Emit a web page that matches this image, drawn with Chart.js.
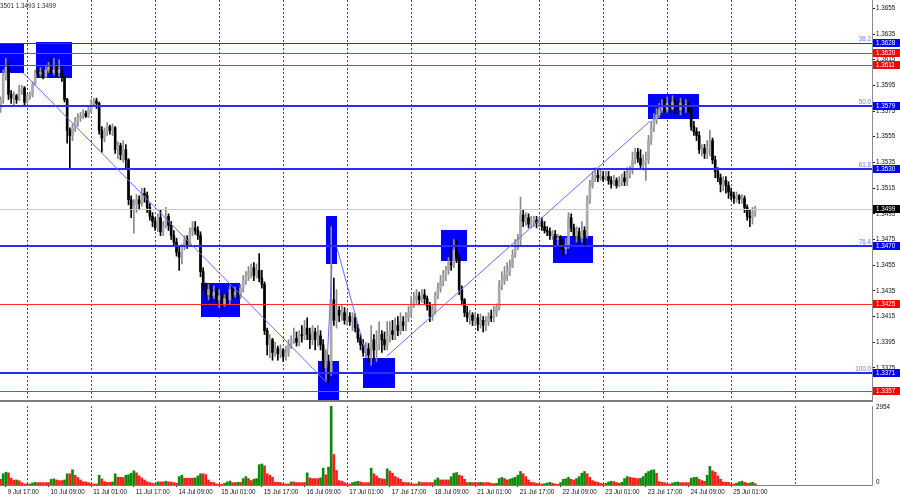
<!DOCTYPE html>
<html>
<head>
<meta charset="utf-8">
<script src="https://cdn.jsdelivr.net/npm/chart.js@4.4.1/dist/chart.umd.min.js"></script>
<style>
  html, body { margin: 0; padding: 0; background: #fff; }
  #wrap { position: relative; width: 900px; height: 500px; overflow: hidden; }
  #priceBox { position: absolute; left: 0; top: 0; width: 900px; height: 400px; }
  #volBox { position: absolute; left: 0; top: 400px; width: 900px; height: 100px; }
</style>
</head>
<body>
<div id="wrap">
  <div id="priceBox"><canvas id="priceChart"></canvas></div>
  <div id="volBox"><canvas id="volChart"></canvas></div>
</div>
<script>
// H1 candles, 9 Jul 17:00 -> 25 Jul 10:00
const opens = [
  1.3577,1.3584,1.3603,1.3609,1.3588,1.3585,1.3587,1.3584,1.3591,1.3593,
  1.3582,1.3587,1.3588,1.3596,1.3605,1.3604,1.3605,1.3602,1.3607,1.3609,
  1.3605,1.3607,1.3605,1.3607,1.3601,1.3584,1.3560,1.3556,1.3562,1.3567,
  1.3570,1.3571,1.3573,1.3571,1.3576,1.3581,1.3583,1.3581,1.3560,1.3554,
  1.3559,1.3563,1.3560,1.3562,1.3545,1.3548,1.3541,1.3545,1.3537,1.3506,
  1.3498,1.3502,1.3506,1.3503,1.3511,1.3509,1.3500,1.3493,1.3489,1.3484,
  1.3492,1.3481,1.3485,1.3493,1.3486,1.3478,1.3473,1.3465,1.3461,1.3470,
  1.3475,1.3471,1.3481,1.3484,1.3482,1.3478,1.3450,1.3440,1.3432,1.3436,
  1.3431,1.3434,1.3428,1.3431,1.3425,1.3429,1.3428,1.3436,1.3432,1.3434,
  1.3432,1.3437,1.3443,1.3447,1.3450,1.3453,1.3447,1.3451,1.3445,1.3440,
  1.3404,1.3393,1.3397,1.3387,1.3390,1.3386,1.3389,1.3384,1.3387,1.3393,
  1.3397,1.3398,1.3395,1.3401,1.3400,1.3406,1.3401,1.3397,1.3403,1.3397,
  1.3400,1.3393,1.3375,1.3380,1.3372,1.3428,1.3412,1.3420,1.3416,1.3418,
  1.3412,1.3415,1.3411,1.3414,1.3406,1.3398,1.3393,1.3387,1.3390,1.3385,
  1.3397,1.3389,1.3393,1.3401,1.3397,1.3393,1.3400,1.3404,1.3401,1.3408,
  1.3404,1.3411,1.3408,1.3414,1.3418,1.3425,1.3428,1.3431,1.3428,1.3432,
  1.3429,1.3423,1.3415,1.3420,1.3431,1.3437,1.3442,1.3447,1.3451,1.3457,
  1.3455,1.3467,1.3461,1.3436,1.3428,1.3418,1.3414,1.3416,1.3412,1.3414,
  1.3409,1.3412,1.3408,1.3411,1.3415,1.3414,1.3418,1.3422,1.3439,1.3443,
  1.3447,1.3450,1.3454,1.3463,1.3470,1.3475,1.3494,1.3489,1.3492,1.3487,
  1.3489,1.3490,1.3488,1.3489,1.3485,1.3482,1.3481,1.3478,1.3479,1.3475,
  1.3476,1.3471,1.3468,1.3471,1.3492,1.3484,1.3478,1.3481,1.3476,1.3482,
  1.3478,1.3506,1.3517,1.3523,1.3525,1.3523,1.3524,1.3522,1.3524,1.3521,
  1.3518,1.3521,1.3517,1.3520,1.3523,1.3520,1.3526,1.3529,1.3537,1.3543,
  1.3538,1.3533,1.3535,1.3537,1.3552,1.3562,1.3568,1.3572,1.3576,1.3579,
  1.3576,1.3581,1.3577,1.3582,1.3579,1.3576,1.3581,1.3578,1.3580,1.3577,
  1.3563,1.3559,1.3556,1.3545,1.3546,1.3542,1.3546,1.3552,1.3537,1.3528,
  1.3523,1.3518,1.3521,1.3517,1.3512,1.3509,1.3507,1.3509,1.3506,1.3507,
  1.3500,1.3493,1.3492,1.3496
];
const highs = [
  1.3586,1.3607,1.3616,1.3612,1.3591,1.3590,1.3588,1.3595,1.3595,1.3594,
  1.3588,1.3590,1.3598,1.3607,1.3609,1.3609,1.3607,1.3610,1.3613,1.3617,
  1.3616,1.3611,1.3615,1.3610,1.3602,1.3585,1.3562,1.3565,1.3570,1.3573,
  1.3574,1.3576,1.3575,1.3579,1.3584,1.3585,1.3585,1.3582,1.3563,1.3562,
  1.3566,1.3564,1.3565,1.3563,1.3551,1.3550,1.3552,1.3549,1.3538,1.3509,
  1.3506,1.3510,1.3509,1.3515,1.3515,1.3512,1.3503,1.3496,1.3492,1.3495,
  1.3498,1.3489,1.3500,1.3495,1.3489,1.3482,1.3476,1.3470,1.3471,1.3478,
  1.3478,1.3484,1.3489,1.3489,1.3485,1.3481,1.3453,1.3441,1.3440,1.3440,
  1.3439,1.3437,1.3436,1.3434,1.3432,1.3434,1.3439,1.3439,1.3438,1.3437,
  1.3440,1.3447,1.3450,1.3454,1.3456,1.3457,1.3456,1.3464,1.3451,1.3442,
  1.3406,1.3401,1.3398,1.3395,1.3392,1.3393,1.3390,1.3392,1.3397,1.3400,
  1.3406,1.3403,1.3404,1.3408,1.3412,1.3414,1.3406,1.3408,1.3406,1.3408,
  1.3404,1.3397,1.3389,1.3385,1.3485,1.3445,1.3436,1.3423,1.3424,1.3422,
  1.3420,1.3418,1.3418,1.3417,1.3409,1.3401,1.3397,1.3395,1.3394,1.3408,
  1.3401,1.3404,1.3411,1.3404,1.3403,1.3411,1.3411,1.3412,1.3414,1.3415,
  1.3418,1.3415,1.3418,1.3423,1.3431,1.3434,1.3436,1.3434,1.3436,1.3436,
  1.3431,1.3426,1.3424,1.3434,1.3441,1.3447,1.3451,1.3454,1.3461,1.3472,
  1.3475,1.3475,1.3464,1.3439,1.3429,1.3423,1.3420,1.3418,1.3418,1.3417,
  1.3417,1.3415,1.3415,1.3418,1.3420,1.3423,1.3425,1.3443,1.3450,1.3454,
  1.3457,1.3459,1.3467,1.3475,1.3479,1.3508,1.3498,1.3496,1.3495,1.3493,
  1.3493,1.3493,1.3492,1.3492,1.3489,1.3485,1.3484,1.3482,1.3482,1.3479,
  1.3478,1.3475,1.3476,1.3496,1.3495,1.3487,1.3485,1.3484,1.3489,1.3485,
  1.3509,1.3521,1.3528,1.3531,1.3529,1.3529,1.3528,1.3528,1.3528,1.3524,
  1.3525,1.3523,1.3524,1.3526,1.3528,1.3531,1.3532,1.3543,1.3546,1.3546,
  1.3545,1.3541,1.3543,1.3556,1.3567,1.3573,1.3577,1.3581,1.3584,1.3585,
  1.3586,1.3584,1.3587,1.3585,1.3584,1.3585,1.3584,1.3584,1.3582,1.3579,
  1.3567,1.3562,1.3559,1.3549,1.3549,1.3552,1.3560,1.3554,1.3540,1.3531,
  1.3526,1.3524,1.3524,1.3520,1.3515,1.3512,1.3512,1.3510,1.3510,1.3509,
  1.3502,1.3498,1.3500,1.3501
];
const lows = [
  1.3574,1.3581,1.3599,1.3584,1.3581,1.3580,1.3581,1.3583,1.3588,1.3580,
  1.3581,1.3584,1.3586,1.3595,1.3601,1.3602,1.3600,1.3601,1.3605,1.3604,
  1.3603,1.3602,1.3602,1.3598,1.3582,1.3550,1.3531,1.3552,1.3559,1.3563,
  1.3567,1.3569,1.3570,1.3570,1.3574,1.3579,1.3577,1.3557,1.3543,1.3551,
  1.3556,1.3557,1.3556,1.3542,1.3538,1.3537,1.3535,1.3531,1.3502,1.3492,
  1.3480,1.3496,1.3498,1.3501,1.3504,1.3496,1.3490,1.3485,1.3482,1.3481,
  1.3478,1.3478,1.3484,1.3482,1.3475,1.3470,1.3462,1.3451,1.3456,1.3467,
  1.3468,1.3470,1.3478,1.3479,1.3475,1.3446,1.3436,1.3428,1.3428,1.3426,
  1.3429,1.3425,1.3422,1.3420,1.3423,1.3424,1.3425,1.3429,1.3430,1.3429,
  1.3429,1.3434,1.3440,1.3443,1.3445,1.3443,1.3445,1.3442,1.3437,1.3401,
  1.3385,1.3383,1.3381,1.3384,1.3381,1.3383,1.3380,1.3381,1.3384,1.3390,
  1.3394,1.3392,1.3392,1.3395,1.3397,1.3397,1.3390,1.3393,1.3389,1.3392,
  1.3389,1.3370,1.3366,1.3364,1.3369,1.3408,1.3406,1.3411,1.3412,1.3409,
  1.3408,1.3408,1.3404,1.3403,1.3395,1.3389,1.3384,1.3383,1.3380,1.3377,
  1.3381,1.3380,1.3389,1.3387,1.3389,1.3389,1.3395,1.3397,1.3397,1.3400,
  1.3401,1.3404,1.3404,1.3411,1.3415,1.3422,1.3425,1.3424,1.3426,1.3425,
  1.3420,1.3411,1.3412,1.3417,1.3429,1.3434,1.3439,1.3443,1.3448,1.3451,
  1.3453,1.3457,1.3432,1.3424,1.3415,1.3411,1.3409,1.3408,1.3408,1.3404,
  1.3406,1.3403,1.3404,1.3408,1.3411,1.3411,1.3415,1.3420,1.3436,1.3440,
  1.3443,1.3447,1.3453,1.3461,1.3467,1.3470,1.3485,1.3486,1.3484,1.3484,
  1.3485,1.3484,1.3485,1.3482,1.3480,1.3478,1.3475,1.3475,1.3471,1.3470,
  1.3467,1.3462,1.3464,1.3468,1.3481,1.3475,1.3473,1.3470,1.3473,1.3470,
  1.3476,1.3503,1.3515,1.3520,1.3520,1.3521,1.3520,1.3521,1.3518,1.3515,
  1.3517,1.3515,1.3516,1.3517,1.3517,1.3517,1.3523,1.3526,1.3534,1.3535,
  1.3531,1.3529,1.3521,1.3534,1.3549,1.3559,1.3565,1.3570,1.3574,1.3574,
  1.3574,1.3574,1.3576,1.3573,1.3573,1.3572,1.3574,1.3574,1.3574,1.3560,
  1.3556,1.3552,1.3542,1.3540,1.3538,1.3538,1.3540,1.3534,1.3523,1.3520,
  1.3512,1.3513,1.3511,1.3507,1.3506,1.3503,1.3504,1.3503,1.3503,1.3496,
  1.3490,1.3485,1.3487,1.3493
];
const closes = [
  1.3584,1.3603,1.3609,1.3588,1.3585,1.3587,1.3584,1.3591,1.3593,1.3582,
  1.3587,1.3588,1.3596,1.3605,1.3604,1.3605,1.3602,1.3607,1.3609,1.3605,
  1.3607,1.3605,1.3607,1.3601,1.3584,1.3560,1.3556,1.3562,1.3567,1.3570,
  1.3571,1.3573,1.3571,1.3576,1.3581,1.3583,1.3581,1.3560,1.3554,1.3559,
  1.3563,1.3560,1.3562,1.3545,1.3548,1.3541,1.3545,1.3537,1.3506,1.3498,
  1.3502,1.3506,1.3503,1.3511,1.3509,1.3500,1.3493,1.3489,1.3484,1.3492,
  1.3481,1.3485,1.3493,1.3486,1.3478,1.3473,1.3465,1.3461,1.3470,1.3475,
  1.3471,1.3481,1.3484,1.3482,1.3478,1.3450,1.3440,1.3432,1.3436,1.3431,
  1.3434,1.3428,1.3431,1.3425,1.3429,1.3428,1.3436,1.3432,1.3434,1.3432,
  1.3437,1.3443,1.3447,1.3450,1.3453,1.3447,1.3451,1.3445,1.3440,1.3404,
  1.3393,1.3397,1.3387,1.3390,1.3386,1.3389,1.3384,1.3387,1.3393,1.3397,
  1.3398,1.3395,1.3401,1.3400,1.3406,1.3401,1.3397,1.3403,1.3397,1.3400,
  1.3393,1.3375,1.3380,1.3372,1.3428,1.3412,1.3420,1.3416,1.3418,1.3412,
  1.3415,1.3411,1.3414,1.3406,1.3398,1.3393,1.3387,1.3390,1.3385,1.3397,
  1.3389,1.3393,1.3401,1.3397,1.3393,1.3400,1.3404,1.3401,1.3408,1.3404,
  1.3411,1.3408,1.3414,1.3418,1.3425,1.3428,1.3431,1.3428,1.3432,1.3429,
  1.3423,1.3415,1.3420,1.3431,1.3437,1.3442,1.3447,1.3451,1.3457,1.3455,
  1.3467,1.3461,1.3436,1.3428,1.3418,1.3414,1.3416,1.3412,1.3414,1.3409,
  1.3412,1.3408,1.3411,1.3415,1.3414,1.3418,1.3422,1.3439,1.3443,1.3447,
  1.3450,1.3454,1.3463,1.3470,1.3475,1.3494,1.3489,1.3492,1.3487,1.3489,
  1.3490,1.3488,1.3489,1.3485,1.3482,1.3481,1.3478,1.3479,1.3475,1.3476,
  1.3471,1.3468,1.3471,1.3492,1.3484,1.3478,1.3481,1.3476,1.3482,1.3478,
  1.3506,1.3517,1.3523,1.3525,1.3523,1.3524,1.3522,1.3524,1.3521,1.3518,
  1.3521,1.3517,1.3520,1.3523,1.3520,1.3526,1.3529,1.3537,1.3543,1.3538,
  1.3533,1.3535,1.3537,1.3552,1.3562,1.3568,1.3572,1.3576,1.3579,1.3576,
  1.3581,1.3577,1.3582,1.3579,1.3576,1.3581,1.3578,1.3580,1.3577,1.3563,
  1.3559,1.3556,1.3545,1.3546,1.3542,1.3546,1.3552,1.3537,1.3528,1.3523,
  1.3518,1.3521,1.3517,1.3512,1.3509,1.3507,1.3509,1.3506,1.3507,1.3500,
  1.3493,1.3492,1.3496,1.3499
];
const volumes = [
  215,420,480,455,255,180,190,160,90,40,
  35,40,75,100,90,90,90,90,90,215,
  230,190,165,165,190,420,420,570,365,280,
  190,125,115,90,40,40,40,365,230,125,
  100,100,115,420,290,290,280,365,380,440,
  530,455,340,265,190,125,90,65,40,115,
  115,115,140,115,115,90,65,315,365,255,
  255,255,255,265,340,420,420,390,190,100,
  90,40,25,25,65,115,150,90,90,100,
  100,240,315,240,165,215,240,760,785,720,
  420,365,290,100,100,90,40,40,40,115,
  115,90,90,90,90,455,265,240,240,240,
  265,630,380,670,2954,1140,540,165,140,90,
  40,40,90,115,140,115,90,90,90,630,
  420,340,255,230,215,605,520,440,315,265,
  215,100,90,90,40,40,40,115,90,90,
  90,90,90,190,265,190,190,190,190,315,
  440,465,365,340,215,90,100,90,90,90,
  100,90,90,90,65,50,65,240,280,240,
  190,215,255,290,365,505,420,315,190,100,
  90,65,40,40,50,75,100,65,40,25,
  90,215,230,290,215,190,240,315,440,505,
  420,290,165,125,100,65,40,65,115,140,
  125,90,65,100,240,315,290,265,255,240,
  255,315,440,505,555,570,440,125,100,90,
  40,40,75,100,115,90,90,90,90,255,
  280,290,215,165,140,365,695,530,480,340,
  215,115,100,100,40,40,65,115,140,100,
  65,75,100,50
];
const timeLabels = ['9 Jul 17:00','10 Jul 09:00','11 Jul 01:00','11 Jul 17:00','14 Jul 09:00','15 Jul 01:00',
  '15 Jul 17:00','16 Jul 09:00','17 Jul 01:00','17 Jul 17:00','18 Jul 09:00','21 Jul 01:00',
  '21 Jul 17:00','22 Jul 09:00','23 Jul 01:00','23 Jul 17:00','24 Jul 09:00','25 Jul 01:00'];
const timeLabelBars = [2,18,34,50,66,82,98,114,130,146,162,178,194,210,226,242,258,274];
const gridBars = [10,34,58,82,106,130,154,178,202,226,250,274,298];
const priceTicks = [1.3355,1.3375,1.3395,1.3415,1.3435,1.3455,1.3475,1.3495,1.3515,1.3535,1.3555,1.3575,1.3595,1.3615,1.3635,1.3655];
const volumeTicks = [0, 2954];

// levels drawn on the chart
const fiboLevels = [1.3628, 1.3579, 1.3530, 1.3470, 1.3371];
const fiboNames = ['38.2', '50.0', '61.8', '76.4', '100.0'];
const redLevels = [1.3620, 1.3611, 1.3425, 1.3357];
const lastPrice = 1.3499;

// blue zones: bar range and price range
const zoneFrom = [-2, 13.3, 75.2, 122.1, 119.1, 135.9, 165.2, 207.2, 242.8];
const zoneTo = [8.8, 26.8, 89.8, 126.2, 126.9, 147.9, 174.9, 222.2, 261.9];
const zoneTop = [1.3628, 1.3629, 1.3441, 1.3493, 1.3380, 1.3383, 1.3482, 1.3478, 1.3588];
const zoneBottom = [1.3605, 1.3601, 1.3415, 1.3456, 1.3340, 1.3359, 1.3458, 1.3457, 1.3569];

// thin trend lines
const trendFromBar = [8.4, 122.1, 126.1, 144.8];
const trendFromPrice = [1.3605, 1.3364, 1.3469, 1.3384];
const trendToBar = [122.1, 124.3, 137.3, 243.5];
const trendToPrice = [1.3364, 1.3455, 1.3384, 1.3567];

const xMin = -0.19, xMax = 326.8;
const FONT = 'Liberation Sans';
const axisFont = {family: FONT, size: 6.3};
const bars = closes.map((c, i) => i);
const isUp = bars.map(i => closes[i] >= opens[i]);

// no label overflow padding, the plot must fill its box
const noPad = s => { s.paddingTop = 0; s.paddingBottom = 0; s.paddingLeft = 0; s.paddingRight = 0; };

const mt4Overlay = {
  id: 'mt4Overlay',
  beforeDatasetsDraw(chart) {
    const {ctx, chartArea: a, scales: {x, y}} = chart;
    ctx.save();
    ctx.beginPath();
    ctx.rect(a.left, a.top, a.right - a.left, a.bottom - a.top);
    ctx.clip();
    ctx.fillStyle = '#0000ff';
    zoneFrom.forEach((z, k) => {
      const x0 = Math.round(x.getPixelForValue(zoneFrom[k]));
      const x1 = Math.round(x.getPixelForValue(zoneTo[k]));
      const y0 = Math.round(y.getPixelForValue(zoneTop[k]));
      const y1 = Math.round(y.getPixelForValue(zoneBottom[k]));
      ctx.fillRect(x0, y0, x1 - x0, y1 - y0);
    });
    ctx.restore();
  },
  afterDatasetsDraw(chart) {
    const {ctx, chartArea: a, scales: {x, y}} = chart;
    ctx.save();
    ctx.beginPath();
    ctx.rect(a.left, a.top, a.right - a.left, a.bottom - a.top);
    ctx.clip();
    // current price line
    ctx.fillStyle = '#c8c8c8';
    ctx.fillRect(a.left, Math.round(y.getPixelForValue(lastPrice)), a.right - a.left, 1);
    // red levels
    ctx.fillStyle = '#ff2a2a';
    redLevels.forEach(v => ctx.fillRect(a.left, Math.round(y.getPixelForValue(v)), a.right - a.left, 1));
    // fibo levels
    fiboLevels.forEach((v, k) => {
      const py = Math.round(y.getPixelForValue(v));
      ctx.fillStyle = '#2b2bff';
      if (k === 0) ctx.fillRect(a.left, py, a.right - a.left, 1);
      else ctx.fillRect(a.left, py - 1, a.right - a.left, 2);
      ctx.fillStyle = '#7474ff';
      ctx.font = '6.3px ' + FONT;
      ctx.textAlign = 'right';
      ctx.textBaseline = 'bottom';
      ctx.fillText(fiboNames[k], a.right - 1, py - 1);
    });
    // trend lines
    ctx.strokeStyle = '#6a6aff';
    ctx.lineWidth = 1;
    trendFromBar.forEach((t, k) => {
      ctx.beginPath();
      ctx.moveTo(x.getPixelForValue(trendFromBar[k]), y.getPixelForValue(trendFromPrice[k]));
      ctx.lineTo(x.getPixelForValue(trendToBar[k]), y.getPixelForValue(trendToPrice[k]));
      ctx.stroke();
    });
    ctx.restore();
  },
  afterDraw(chart) {
    const {ctx, chartArea: a, scales: {y}} = chart;
    ctx.save();
    ctx.font = '6.3px ' + FONT;
    ctx.textBaseline = 'middle';
    ctx.textAlign = 'left';
    const tag = (v, bg) => {
      const py = Math.round(y.getPixelForValue(v));
      ctx.fillStyle = bg;
      ctx.fillRect(a.right + 1, py - 4, 900 - a.right, 8);
      ctx.fillStyle = '#fff';
      ctx.fillText(v.toFixed(4), a.right + 4, py + 0.5);
    };
    fiboLevels.forEach(v => tag(v, '#0000ff'));
    redLevels.forEach(v => tag(v, '#ff0000'));
    tag(lastPrice, '#000000');
    // OHLC header, left part cut off by the window edge
    const n = closes.length - 1;
    const head = highs[n].toFixed(4) + ' ' + lows[n].toFixed(4) + ' ' + closes[n].toFixed(4);
    ctx.fillStyle = '#333';
    ctx.fillText(head, -ctx.measureText('1.').width, 6);
    ctx.restore();
  }
};

new Chart(document.getElementById('priceChart'), {
  type: 'bar',
  data: {
    datasets: [
      {
        label: 'wick',
        data: bars.map(i => ({x: i, y: [lows[i], highs[i]]})),
        backgroundColor: bars.map(i => isUp[i] ? '#8a8a8a' : '#000000'),
        barThickness: 1,
        grouped: false,
        order: 2
      },
      {
        label: 'body',
        data: bars.map(i => ({x: i, y: [opens[i], closes[i]]})),
        backgroundColor: bars.map(i => isUp[i] ? '#a9a9a9' : '#000000'),
        barThickness: 2,
        minBarLength: 1,
        grouped: false,
        order: 1
      }
    ]
  },
  options: {
    responsive: true,
    maintainAspectRatio: false,
    animation: false,
    devicePixelRatio: 1,
    events: [],
    layout: {padding: 0, autoPadding: false},
    plugins: {legend: {display: false}, tooltip: {enabled: false}},
    scales: {
      x: {
        type: 'linear', min: xMin, max: xMax, offset: false,
        afterBuildTicks: s => { s.ticks = gridBars.map(v => ({value: v})); },
        afterFit: s => { s.height = 0; noPad(s); },
        ticks: {display: false},
        grid: {color: '#4a4a4a', lineWidth: 1, drawTicks: false, offset: false},
        border: {display: false, dash: [2, 2]}
      },
      y: {
        type: 'linear', position: 'right', min: 1.3350, max: 1.36615,
        afterBuildTicks: s => { s.ticks = priceTicks.map(v => ({value: v})); },
        afterFit: s => { s.width = 28; noPad(s); },
        ticks: {font: axisFont, color: '#111', padding: 1, autoSkip: false, callback: v => v.toFixed(4)},
        grid: {drawOnChartArea: false, drawTicks: true, tickLength: 3, color: '#222'},
        border: {display: true, color: '#8c8c8c', width: 1}
      }
    }
  },
  plugins: [mt4Overlay]
});

const volOverlay = {
  id: 'volOverlay',
  afterDraw(chart) {
    const {ctx, chartArea: a, scales: {y}} = chart;
    ctx.save();
    ctx.fillStyle = '#7d7d7d';
    ctx.fillRect(0, 0, a.right + 1, 2);
    ctx.font = '6.3px ' + FONT;
    ctx.fillStyle = '#111';
    ctx.textAlign = 'left';
    ctx.textBaseline = 'middle';
    ctx.fillText(String(volumeTicks[1]), a.right + 4, y.getPixelForValue(volumeTicks[1]) + 1);
    ctx.fillText(String(volumeTicks[0]), a.right + 4, y.getPixelForValue(volumeTicks[0]) - 3);
    ctx.restore();
  }
};

new Chart(document.getElementById('volChart'), {
  type: 'bar',
  data: {
    datasets: [{
      label: 'Volumes',
      data: bars.map(i => ({x: i, y: volumes[i]})),
      backgroundColor: bars.map(i => i > 0 && volumes[i] > volumes[i - 1] ? '#0b8a0b' : '#ff1c1c'),
      barThickness: 2,
      xAxisID: 'x',
      yAxisID: 'y'
    }]
  },
  options: {
    responsive: true,
    maintainAspectRatio: false,
    animation: false,
    devicePixelRatio: 1,
    events: [],
    layout: {padding: {top: 6, left: 0, right: 0, bottom: 0}, autoPadding: false},
    plugins: {legend: {display: false}, tooltip: {enabled: false}},
    scales: {
      x: {
        type: 'linear', min: xMin, max: xMax, offset: false, position: 'bottom',
        afterBuildTicks: s => { s.ticks = gridBars.map(v => ({value: v})); },
        afterFit: s => { s.height = 0; noPad(s); },
        ticks: {display: false},
        grid: {color: '#4a4a4a', lineWidth: 1, drawTicks: false, offset: false},
        border: {display: false, dash: [2, 2]}
      },
      x2: {
        type: 'linear', min: xMin, max: xMax, offset: false, position: 'bottom',
        afterBuildTicks: s => { s.ticks = timeLabelBars.map(v => ({value: v})); },
        afterFit: s => { s.height = 15; noPad(s); },
        ticks: {
          font: axisFont, color: '#111', padding: 1, autoSkip: false, maxRotation: 0,
          align: 'start', labelOffset: 2,
          callback: v => timeLabels[timeLabelBars.indexOf(v)]
        },
        grid: {drawOnChartArea: false, drawTicks: true, tickLength: 2, color: '#222', offset: false},
        border: {display: true, color: '#7d7d7d', width: 1}
      },
      y: {
        type: 'linear', position: 'right', min: 0, max: volumeTicks[1],
        afterFit: s => { s.width = 28; noPad(s); },
        ticks: {display: false},
        grid: {display: false},
        border: {display: true, color: '#8c8c8c', width: 1}
      }
    }
  },
  plugins: [volOverlay]
});
</script>
</body>
</html>
